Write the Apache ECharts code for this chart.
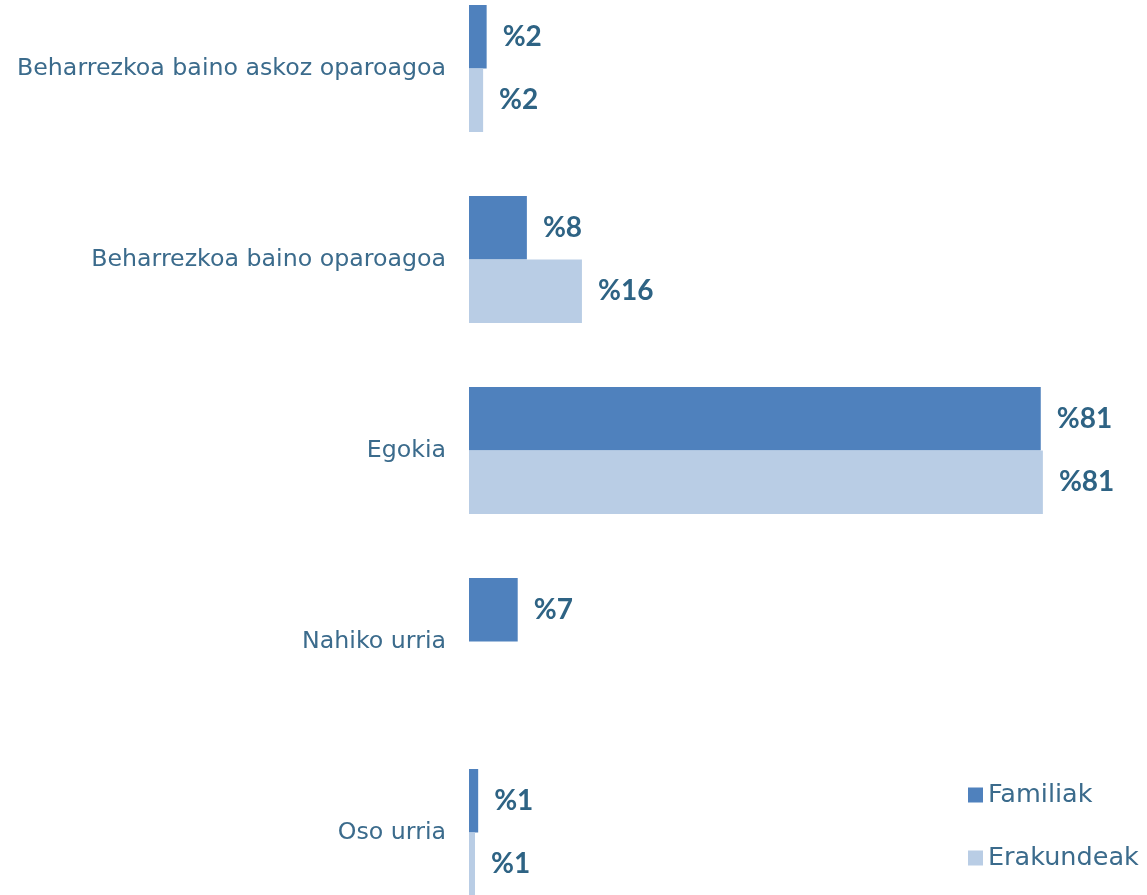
<!DOCTYPE html>
<html><head><meta charset="utf-8">
<script src="https://cdn.jsdelivr.net/npm/echarts@6/dist/echarts.min.js"></script>
<style>html,body{margin:0;padding:0;background:#fff;overflow:hidden;width:1147px;height:895px}#c{position:absolute;left:0;top:-27px;width:1147px;height:955px}</style>
</head><body><div id="c"></div>
<script>
const categories = ["Beharrezkoa baino askoz oparoagoa", "Beharrezkoa baino oparoagoa", "Egokia", "Nahiko urria", "Oso urria"];
const familiak = [2.5, 8.2, 81, 6.9, 1.3];
const erakundeak = [2, 16, 81.3, null, 0.85];
const familiakLabels = ["%2", "%8", "%81", "%7", "%1"];
const erakundeakLabels = ["%2", "%16", "%81", "", "%1"];

const FONT = 'Lato, "Noto Sans", sans-serif';
const WIDE = '"DejaVu Sans", sans-serif';
const chart = echarts.init(document.getElementById('c'));
const lbl = (arr) => ({
  show: true, position: 'right', distance: 16,
  formatter: p => arr[p.dataIndex],
  color: '#2e6384', fontWeight: 'bold', fontSize: 28, fontFamily: FONT
});
chart.setOption({
  animation: false,
  grid: { left: 469, right: 78, top: 0, bottom: 0, containLabel: false },
  xAxis: { type: 'value', min: 0, max: 85, show: false },
  yAxis: {
    type: 'category', data: categories, inverse: true,
    axisLine: { show: false }, axisTick: { show: false },
    axisLabel: { color: '#3b6b8c', fontSize: 23.7, fontFamily: WIDE, margin: 23 }
  },
  legend: {
    orient: 'vertical', left: 968, top: 809, padding: 0, itemWidth: 15, itemHeight: 15, itemGap: 37,
    icon: 'rect', textStyle: { color: '#3b6b8c', fontSize: 25.5, fontFamily: WIDE },
    data: ['Familiak', 'Erakundeak']
  },
  series: [
    { name: 'Familiak', type: 'bar', data: familiak, barGap: '0%', barCategoryGap: '33.5%',
      itemStyle: { color: '#4f81bd' }, label: lbl(familiakLabels) },
    { name: 'Erakundeak', type: 'bar', data: erakundeak, barGap: '0%', barCategoryGap: '33.5%',
      itemStyle: { color: '#b9cde5' }, label: lbl(erakundeakLabels) }
  ]
});
</script></body></html>
